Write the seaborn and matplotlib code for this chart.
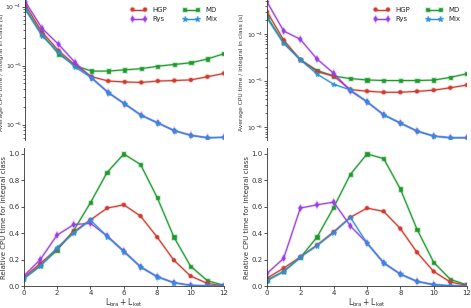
import numpy as np
import pandas as pd
import matplotlib
matplotlib.use("Agg")
import matplotlib.pyplot as plt
import matplotlib.patheffects as pe
import seaborn as sns

# -----------------------------
# Data
# -----------------------------
l_total = list(range(13))
methods = ["HGP", "Rys", "MD", "Mix"]

# left column: average time per integral (s)
avg_left_hgp = [1.06e-4, 3.7e-5, 1.8e-5, 1.02e-5, 6.5e-6, 5.5e-6, 5.3e-6, 5.2e-6, 5.5e-6, 5.6e-6, 5.75e-6, 6.5e-6, 7.4e-6]
avg_left_rys = [1.2e-4, 4.3e-5, 2.3e-5, 1.13e-5, 6.2e-6, 3.5e-6, 2.25e-6, 1.44e-6, 1.07e-6, 7.9e-7, 6.6e-7, 6.0e-7, 6.1e-7]
avg_left_md = [9.3e-5, 3.4e-5, 1.58e-5, 1.0e-5, 8.1e-6, 8.1e-6, 8.5e-6, 8.9e-6, 9.8e-6, 1.05e-5, 1.12e-5, 1.3e-5, 1.6e-5]
avg_left_mix = [8.9e-5, 3.2e-5, 1.7e-5, 9.5e-6, 6.2e-6, 3.5e-6, 2.25e-6, 1.44e-6, 1.07e-6, 7.9e-7, 6.6e-7, 6.0e-7, 6.1e-7]

# right column
avg_right_hgp = [3.0e-4, 7.4e-5, 2.8e-5, 1.55e-5, 1.25e-5, 6.4e-6, 5.9e-6, 5.6e-6, 5.6e-6, 5.85e-6, 6.2e-6, 7.0e-6, 8.0e-6]
avg_right_rys = [4.9e-4, 1.16e-4, 7.7e-5, 2.9e-5, 1.43e-5, 6.0e-6, 3.5e-6, 1.83e-6, 1.22e-6, 8.2e-7, 6.4e-7, 5.9e-7, 5.9e-7]
avg_right_md = [2.36e-4, 6.5e-5, 2.8e-5, 1.65e-5, 1.25e-5, 1.1e-5, 1.03e-5, 1.0e-5, 1.0e-5, 1.0e-5, 1.02e-5, 1.17e-5, 1.4e-5]
avg_right_mix = [2.2e-4, 6.3e-5, 2.8e-5, 1.38e-5, 8.3e-6, 6.3e-6, 3.5e-6, 1.83e-6, 1.22e-6, 8.2e-7, 6.4e-7, 5.9e-7, 5.9e-7]

# relative CPU time for integral class
rel_left_hgp = [0.065, 0.17, 0.28, 0.41, 0.50, 0.59, 0.615, 0.53, 0.37, 0.195, 0.075, 0.02, 0.0]
rel_left_rys = [0.075, 0.20, 0.385, 0.465, 0.475, 0.38, 0.265, 0.145, 0.07, 0.025, 0.005, 0.002, 0.0]
rel_left_md = [0.055, 0.155, 0.27, 0.42, 0.63, 0.86, 1.0, 0.92, 0.67, 0.37, 0.15, 0.04, 0.005]
rel_left_mix = [0.055, 0.15, 0.29, 0.40, 0.50, 0.375, 0.26, 0.145, 0.07, 0.025, 0.005, 0.001, 0.0]

rel_right_hgp = [0.06, 0.135, 0.22, 0.31, 0.41, 0.52, 0.59, 0.565, 0.435, 0.255, 0.11, 0.03, 0.005]
rel_right_rys = [0.095, 0.21, 0.59, 0.615, 0.635, 0.455, 0.325, 0.175, 0.09, 0.035, 0.01, 0.002, 0.0]
rel_right_md = [0.045, 0.11, 0.215, 0.37, 0.595, 0.845, 1.0, 0.965, 0.735, 0.43, 0.18, 0.05, 0.008]
rel_right_mix = [0.04, 0.11, 0.22, 0.305, 0.405, 0.52, 0.325, 0.175, 0.09, 0.035, 0.01, 0.002, 0.0]

# -----------------------------
# Style
# -----------------------------
colors = {"HGP": "#d03a2c", "Rys": "#9a3de8", "MD": "#1d9a2c", "Mix": "#2e8fdc"}
markers = {"HGP": "o", "Rys": "d", "MD": "s", "Mix": "*"}
msize = {"HGP": 2.4, "Rys": 2.8, "MD": 2.4, "Mix": 3.6}
draw_order = ["MD", "HGP", "Rys", "Mix"]

sns.set_style("ticks")
plt.rcParams["font.family"] = ["DejaVu Sans"]
plt.rcParams["mathtext.fontset"] = "dejavusans"
FS = 5

fig = plt.figure(figsize=(4.71, 3.08), dpi=100)
ax_tl = fig.add_axes([0.05414, 0.547, 0.4214, 0.453])
ax_tr = fig.add_axes([0.5669, 0.547, 0.4246, 0.453])
ax_bl = fig.add_axes([0.050, 0.0714, 0.4257, 0.448])
ax_br = fig.add_axes([0.5669, 0.0714, 0.4246, 0.448])

panels = [
    (ax_tl, {"HGP": avg_left_hgp, "Rys": avg_left_rys, "MD": avg_left_md, "Mix": avg_left_mix}),
    (ax_tr, {"HGP": avg_right_hgp, "Rys": avg_right_rys, "MD": avg_right_md, "Mix": avg_right_mix}),
    (ax_bl, {"HGP": rel_left_hgp, "Rys": rel_left_rys, "MD": rel_left_md, "Mix": rel_left_mix}),
    (ax_br, {"HGP": rel_right_hgp, "Rys": rel_right_rys, "MD": rel_right_md, "Mix": rel_right_mix}),
]

for ax, series in panels:
    for m in draw_order:
        df = pd.DataFrame({"L": l_total, "v": series[m]})
        sns.lineplot(data=df, x="L", y="v", ax=ax, color=colors[m], marker=markers[m],
                     markersize=msize[m], markeredgewidth=0.4, markeredgecolor=colors[m],
                     linewidth=0.8, label=m,
                     path_effects=[pe.Stroke(linewidth=1.8, foreground=colors[m], alpha=0.25),
                                   pe.Normal()])
    ax.set_xlim(0, 12)
    ax.tick_params(labelsize=FS, length=2, width=0.6, pad=1, colors="#333333")
    for s in ax.spines.values():
        s.set_linewidth(0.6)
        s.set_color("#333333")
    ax.set_xlabel("")
    ax.set_ylabel("")

# top row: log scale, no x axis
for ax, ylim in [(ax_tl, (5.6e-7, 1.3e-4)), (ax_tr, (5.4e-7, 5.38e-4))]:
    ax.set_yscale("log")
    ax.set_ylim(*ylim)
    sns.despine(ax=ax, bottom=True)
    ax.tick_params(axis="x", bottom=False, labelbottom=False)
    ax.tick_params(axis="y", labelsize=4.5, pad=0.8)
    ax.tick_params(axis="y", which="minor", length=1.2, width=0.5)
    ax.set_ylabel("Average CPU time / integral in class (s)", fontsize=4.3, color="#333333")
ax_tl.yaxis.set_label_coords(-0.1063, 0.48)
ax_tr.yaxis.set_label_coords(-0.115, 0.48)

h, lab = ax_tl.get_legend_handles_labels()
order = [lab.index(n) for n in methods]
for ax in [ax_tl, ax_tr]:
    h, lab = ax.get_legend_handles_labels()
    ax.get_legend().remove()
    ax.legend([h[i] for i in order], methods, ncol=2, fontsize=FS, frameon=False,
              loc="upper right", bbox_to_anchor=(1.0, 1.0), handlelength=2.4, numpoints=2,
              columnspacing=2.2, borderaxespad=0.6, labelspacing=0.5)

# bottom row: linear
for ax in [ax_bl, ax_br]:
    ax.get_legend().remove()
    ax.set_ylim(0, 1.045)
    ax.set_xticks([0, 2, 4, 6, 8, 10, 12])
    ax.set_yticks([0.0, 0.2, 0.4, 0.6, 0.8, 1.0])
    ax.yaxis.set_major_formatter(matplotlib.ticker.FormatStrFormatter("%.1f"))
    sns.despine(ax=ax)
    ax.set_ylabel("Relative CPU time for integral class", fontsize=FS, color="#333333")
    ax.set_xlabel(r"$\mathrm{L}_{\mathrm{bra}} + \mathrm{L}_{\mathrm{ket}}$", fontsize=FS + 0.5,
                  color="#333333")
    ax.xaxis.set_label_coords(0.5, -0.075)
ax_bl.yaxis.set_label_coords(-0.085, 0.5)
ax_br.yaxis.set_label_coords(-0.085, 0.5)

fig.savefig("out.png", dpi=100)
